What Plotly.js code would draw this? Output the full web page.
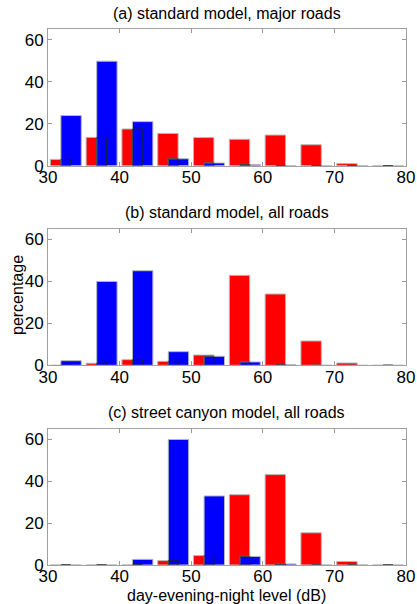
<!DOCTYPE html>
<html>
<head>
<meta charset="utf-8">
<script src="https://cdn.plot.ly/plotly-3.0.1.min.js"></script>
<style>html,body{margin:0;padding:0;background:#fff;}#chart{width:417px;height:604px;}</style>
</head>
<body>
<div id="chart"></div>
<script>
// bin centres (dB)
var bins = [32.5, 37.5, 42.5, 47.5, 52.5, 57.5, 62.5, 67.5, 72.5, 77.5];
// (a) standard model, major roads
var aRed  = [3, 13.5, 17.5, 15.4, 13.4, 12.6, 14.6, 10, 1, 0];
var aBlue = [23.9, 49.8, 21, 3.3, 1.3, 0.6, 0, 0, 0, 0];
// (b) standard model, all roads
var bRed  = [0, 1, 2.7, 1.9, 4.9, 42.9, 34, 11.6, 1.1, 0];
var bBlue = [2.2, 40, 45.1, 6.5, 4.3, 1.6, 0.3, 0, 0, 0];
// (c) street canyon model, all roads
var cRed  = [0, 0, 0, 2.1, 4.5, 33.6, 43.2, 15.4, 1.7, 0];
var cBlue = [0, 0, 2.7, 60, 33, 4.1, 0.5, 0, 0, 0];

var titles = ["(a) standard model, major roads", "(b) standard model, all roads", "(c) street canyon model, all roads"];
var xTicks = [30, 40, 50, 60, 70, 80];
var yTicks = [0, 20, 40, 60];

var FONT = "Liberation Sans, Arial, Helvetica, sans-serif";
var panels = [[aRed, aBlue], [bRed, bBlue], [cRed, cBlue]];
var traces = [];
panels.forEach(function (p, i) {
  var xa = i === 0 ? "x" : "x" + (i + 1);
  var ya = i === 0 ? "y" : "y" + (i + 1);
  traces.push({type: "bar", x: bins, y: p[0], xaxis: xa, yaxis: ya, width: 2.85, offset: -2.175,
    marker: {color: "#ff0000", line: {color: "#b8b8b8", width: 1}}, showlegend: false, hoverinfo: "skip"});
  traces.push({type: "bar", x: bins, y: p[1], xaxis: xa, yaxis: ya, width: 2.85, offset: -0.7,
    marker: {color: "#0000ff", line: {color: "#b8b8b8", width: 1}}, showlegend: false, hoverinfo: "skip"});
  // outline of the red bar where it lies behind the blue bar
  var overlap = p[0].map(function (v, k) { return Math.min(v, p[1][k]); });
  traces.push({type: "bar", x: bins, y: overlap, xaxis: xa, yaxis: ya, width: 1.375, offset: -0.7,
    marker: {color: "rgba(0,0,0,0)", line: {color: "#202020", width: 0.8}}, showlegend: false, hoverinfo: "skip"});
});

var xDom = [48 / 417, 406 / 417];
var yDoms = [[1 - 165.7 / 604, 1 - 29.3 / 604], [1 - 365.3 / 604, 1 - 229 / 604], [1 - 565 / 604, 1 - 429 / 604]];

function xaxis(i) {
  return {domain: xDom, range: [30, 80], tickvals: xTicks, ticktext: xTicks.map(String),
    ticks: "inside", ticklen: 4, tickcolor: "#999", showline: true, linecolor: "#a0a0a0", linewidth: 1,
    mirror: "ticks", showgrid: false, zeroline: false, anchor: i === 0 ? "y" : "y" + (i + 1),
    ticklabelstandoff: -4,
    tickfont: {family: FONT, size: 17, color: "#000"}, fixedrange: true};
}
function yaxis(i) {
  return {domain: yDoms[i], range: [0, 65], tickvals: yTicks, ticktext: yTicks.map(String),
    ticks: "inside", ticklen: 4, tickcolor: "#999", showline: true, linecolor: "#a0a0a0", linewidth: 1,
    mirror: "ticks", showgrid: false, zeroline: false, anchor: i === 0 ? "x" : "x" + (i + 1),
    tickfont: {family: FONT, size: 17, color: "#000"}, fixedrange: true};
}

var annotations = titles.map(function (t, i) {
  var yPix = [13, 212, 412][i];
  return {text: t, xref: "paper", yref: "paper", x: 227 / 417, y: 1 - yPix / 604,
    xanchor: "center", yanchor: "middle", showarrow: false, font: {family: FONT, size: 16, color: "#000"}};
});
annotations.push({text: "percentage", xref: "paper", yref: "paper", x: 17 / 417, y: 1 - 295 / 604,
  xanchor: "center", yanchor: "middle", textangle: -90, showarrow: false, font: {family: FONT, size: 16, color: "#000"}});
annotations.push({text: "day-evening-night level (dB)", xref: "paper", yref: "paper", x: 227 / 417, y: 1 - 595 / 604,
  xanchor: "center", yanchor: "middle", showarrow: false, font: {family: FONT, size: 16, color: "#000"}});

var layout = {
  width: 417, height: 604, margin: {l: 0, r: 0, t: 0, b: 0},
  paper_bgcolor: "#fff", plot_bgcolor: "#fff", barmode: "overlay", bargap: 0,
  font: {family: FONT, color: "#000"},
  xaxis: xaxis(0), xaxis2: xaxis(1), xaxis3: xaxis(2),
  yaxis: yaxis(0), yaxis2: yaxis(1), yaxis3: yaxis(2),
  annotations: annotations
};
Plotly.newPlot("chart", traces, layout, {staticPlot: true, displayModeBar: false});
</script>
</body>
</html>
